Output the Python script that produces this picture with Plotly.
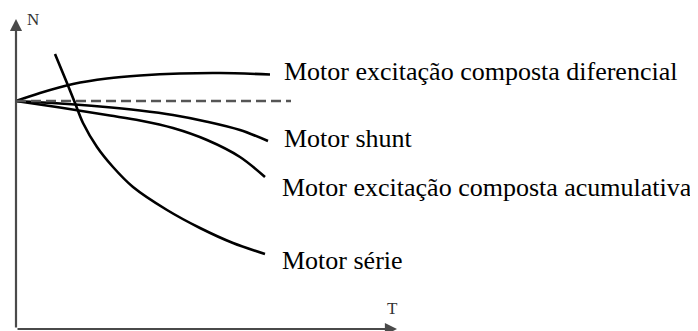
import plotly.graph_objects as go

# Values (arbitrary units: T = torque, N = speed)
t_diferencial = [0, 24, 57, 91, 124, 164, 204, 254]
n_diferencial = [228, 236, 245, 250.5, 253.5, 255.5, 256, 254.5]

t_ref = [0, 275]
n_ref = [228, 228]

t_shunt = [0, 44, 84, 124, 157, 191, 224, 252]
n_shunt = [228, 225.5, 222.5, 218.5, 214, 207.3, 199, 188]

t_acum = [0, 44, 94, 124, 157, 191, 224, 249]
n_acum = [228, 221.5, 213.5, 208.5, 201, 189, 172, 152]

t_serie = [39, 51, 59, 67, 81, 97, 117, 151, 184, 217, 249]
n_serie = [275, 246, 226, 206, 182, 162, 142, 119, 101, 86, 75]

labels = ["Motor excitação composta diferencial", "Motor shunt",
          "Motor excitação composta acumulativa", "Motor série"]
label_t = [266, 266, 264, 264]
label_n = [258, 191, 142, 69]

axis_t_max = 381
axis_n_max = 310

SERIF = "Liberation Serif, Times New Roman, Times, serif"

fig = go.Figure()
curve = dict(color="black", width=2.6, shape="spline", smoothing=0.9)
for t, n in [(t_diferencial, n_diferencial), (t_shunt, n_shunt),
             (t_acum, n_acum), (t_serie, n_serie)]:
    fig.add_trace(go.Scatter(x=t, y=n, mode="lines", line=curve,
                             hoverinfo="skip", showlegend=False))
fig.add_trace(go.Scatter(x=t_ref, y=n_ref, mode="lines",
                         line=dict(color="#555555", width=2.5, dash="10px,5px"),
                         hoverinfo="skip", showlegend=False))

# axes with arrows
for (hx, hy) in [(0, axis_n_max), (axis_t_max, 0)]:
    fig.add_annotation(x=hx, y=hy, ax=0, ay=0, xref="x", yref="y",
                       axref="x", ayref="y", text="", showarrow=True,
                       arrowhead=2, arrowsize=1.1, arrowwidth=2.2,
                       arrowcolor="#4a4a4a")

for txt, x, y in zip(labels, label_t, label_n):
    fig.add_annotation(x=x, y=y, xref="x", yref="y", text=txt,
                       showarrow=False, xanchor="left", yanchor="middle",
                       font=dict(family=SERIF, size=26, color="black"))

fig.add_annotation(x=17, y=310, text="N", showarrow=False, xref="x", yref="y",
                   font=dict(family=SERIF, size=17, color="#333"))
fig.add_annotation(x=376, y=21, text="T", showarrow=False, xref="x", yref="y",
                   font=dict(family=SERIF, size=17, color="#333"))

# the page body keeps an 8px margin, so the figure is 8px smaller and
# its ranges are chosen so that one unit equals one pixel
fig.update_layout(
    width=690, height=323,
    margin=dict(l=0, r=0, t=0, b=0),
    paper_bgcolor="white", plot_bgcolor="white",
    xaxis=dict(range=[-8, 682], visible=False, fixedrange=True),
    yaxis=dict(range=[-2, 321], visible=False, fixedrange=True),
)

fig.write_html("out.html")
